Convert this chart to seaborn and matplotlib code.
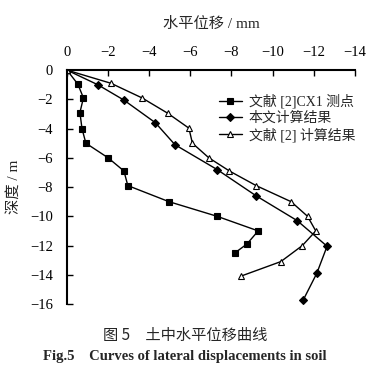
import pandas as pd
import matplotlib
matplotlib.use("Agg")
import matplotlib.pyplot as plt
import seaborn as sns

# data (displacement mm, depth m)
cx1_x = [0, -0.53, -0.8, -0.63, -0.73, -0.92, -2.0, -2.77, -2.96, -4.96, -7.3, -9.3, -8.75, -8.17]
cx1_y = [0, -0.96, -1.9, -2.9, -4.0, -5.0, -6.0, -6.9, -7.9, -9.0, -10.0, -11.0, -11.9, -12.5]

this_x = [0, -1.5, -2.77, -4.3, -5.25, -7.3, -9.2, -11.2, -12.65, -12.15, -11.5]
this_y = [0, -1.0, -2.05, -3.6, -5.1, -6.8, -8.6, -10.3, -12.05, -13.9, -15.7]

ref_x = [0, -2.14, -3.65, -4.9, -5.93, -6.1, -6.9, -7.9, -9.2, -10.9, -11.7, -12.1, -11.45, -10.4, -8.45]
ref_y = [0, -0.9, -1.9, -2.95, -3.97, -5.0, -6.0, -6.9, -7.9, -9.0, -10.0, -11.0, -12.0, -13.1, -14.1]

labels = ["文献 [2]CX1 测点", "本文计算结果", "文献 [2] 计算结果"]
x_ticks = [0, -2, -4, -6, -8, -10, -12, -14]
y_ticks = [0, -2, -4, -6, -8, -10, -12, -14, -16]

sns.set_style("ticks")
plt.rcParams['font.family'] = ['Liberation Serif', 'Noto Sans CJK SC']
plt.rcParams['axes.unicode_minus'] = True

fig = plt.figure(figsize=(3.7, 3.73), dpi=100)
ax = fig.add_axes([0.181, 0.185, 0.778, 0.627])

series = [(cx1_x, cx1_y, 's', 'black'),
          (this_x, this_y, 'D', 'black'),
          (ref_x, ref_y, '^', 'white')]
for (xs, ys, mk, fc), lab in zip(series, labels):
    df = pd.DataFrame({'x': xs, 'y': ys})
    sns.lineplot(data=df, x='x', y='y', sort=False, ax=ax, color='black',
                 linewidth=1.0, marker=mk, markersize=5 if mk != 'D' else 4.5,
                 markerfacecolor=fc, markeredgecolor='black', markeredgewidth=0.8,
                 label=lab)

ax.set_xlim(0, -14)
ax.set_ylim(-16, 0)
ax.set_xticks(x_ticks)
ax.set_yticks(y_ticks)
ax.xaxis.tick_top()
ax.xaxis.set_label_position('top')
ax.tick_params(direction='in', length=4, width=1, labelsize=10.5, colors='black', pad=8)
ax.tick_params(axis='y', pad=10)
for s in ['right', 'bottom']:
    ax.spines[s].set_visible(False)
for s in ['top', 'left']:
    ax.spines[s].set_linewidth(1.5)
    ax.spines[s].set_color('black')

ax.set_xlabel('水平位移 / mm', fontsize=11, labelpad=13)
ax.set_ylabel('深度 / m', fontsize=11, labelpad=7)

leg = ax.legend(loc='upper left', bbox_to_anchor=(0.51, 0.92), frameon=False,
                fontsize=10, handlelength=1.6, handletextpad=0.5,
                labelspacing=0.2, borderaxespad=0)

fig.text(0.5, 0.102, '图 5　土中水平位移曲线', ha='center', va='center', fontsize=11,
         family=['Noto Sans CJK SC', 'Liberation Serif'])
fig.text(0.5, 0.043, 'Fig.5　Curves of lateral displacements in soil', ha='center',
         va='center', fontsize=10.5, fontweight='bold',
         family=['Liberation Serif', 'Noto Sans CJK SC'])

fig.savefig('out.png', dpi=100)
